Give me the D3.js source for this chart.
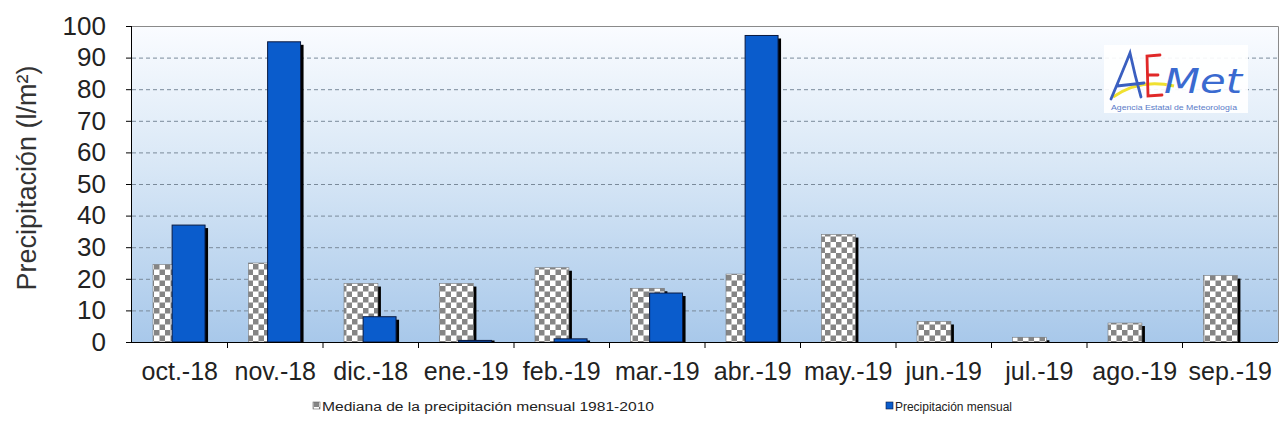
<!DOCTYPE html>
<html><head><meta charset="utf-8">
<script src="https://cdn.jsdelivr.net/npm/d3@7"></script>
<style>body{margin:0;background:#fff}svg{display:block}</style>
</head><body>
<svg id="c" width="1280" height="442"></svg>
<script>
const months = ["oct.-18","nov.-18","dic.-18","ene.-19","feb.-19","mar.-19","abr.-19","may.-19","jun.-19","jul.-19","ago.-19","sep.-19"];
const medianValues = [24.5,25,18.5,18.5,23.5,17,21.5,34,6.5,1.5,6,21];
const monthlyValues = [37,95,8,0.5,1,15.5,97,0,0,0,0,0];
const yTicks = [0,10,20,30,40,50,60,70,80,90,100];
const legendLabels = ["Mediana de la precipitación mensual  1981-2010","Precipitación mensual"];

const svg = d3.select("#c");
const L=132,R=1278,T=26,B=342;
const x = d3.scaleBand().domain(months).range([L,R]).paddingInner(0).paddingOuter(0);
const y = d3.scaleLinear().domain([0,100]).range([B,T]);
const bw = x.bandwidth();

const defs = svg.append("defs");
const g = defs.append("linearGradient").attr("id","bg").attr("x1",0).attr("y1",0).attr("x2",0).attr("y2",1);
g.append("stop").attr("offset","0%").attr("stop-color","#fafcff");
g.append("stop").attr("offset","45%").attr("stop-color","#d8e7f6");
g.append("stop").attr("offset","100%").attr("stop-color","#a8c8ea");
const p = defs.append("pattern").attr("id","chk").attr("patternUnits","userSpaceOnUse").attr("width",11).attr("height",11);
p.append("rect").attr("width",11).attr("height",11).attr("fill","#ffffff");
p.append("rect").attr("width",5.5).attr("height",5.5).attr("fill","#858585");
p.append("rect").attr("x",5.5).attr("y",5.5).attr("width",5.5).attr("height",5.5).attr("fill","#858585");

svg.append("rect").attr("x",L).attr("y",T).attr("width",R-L).attr("height",B-T).attr("fill","url(#bg)");
svg.append("path").attr("d",`M${L},${T+0.5}H${R+0.5}V${B}`).attr("fill","none").attr("stroke","#8a8a8a").attr("stroke-width",1);

// gridlines
svg.append("g").selectAll("line").data(yTicks.filter(d=>d>0&&d<100)).join("line")
  .attr("x1",L).attr("x2",R).attr("y1",d=>y(d)+0.5).attr("y2",d=>y(d)+0.5)
  .attr("stroke","#7a8a9a").attr("stroke-width",1).attr("stroke-dasharray","4,3");

// logo
const lg = svg.append("g");
lg.append("rect").attr("x",1104).attr("y",45).attr("width",144).attr("height",68).attr("fill","#ffffff").attr("opacity",0.92);
lg.append("path").attr("d","M1113,97 Q1140,78 1174,86").attr("fill","none").attr("stroke","#f0e030").attr("stroke-width",3);
lg.append("path").attr("d","M1111,99 Q1122,73 1130,53 Q1135,76 1141,97 M1117,86 L1144,83").attr("fill","none").attr("stroke","#3a5fc0").attr("stroke-width",2.8).attr("stroke-linecap","round");
lg.append("path").attr("d","M1160,55 L1147,56 L1148,96 L1162,95 M1148,75 L1158,75").attr("fill","none").attr("stroke","#e02828").attr("stroke-width",2.8).attr("stroke-linecap","round");
lg.append("text").attr("x",1164).attr("y",93).attr("font-family","DejaVu Sans").attr("font-style","italic").attr("font-size",34).attr("fill","#3a6ad0").attr("textLength",78).attr("lengthAdjust","spacingAndGlyphs").text("Met");
lg.append("text").attr("x",1111).attr("y",110).attr("font-family","Liberation Sans").attr("font-size",6.5).attr("fill","#5a7ac8").attr("textLength",126).attr("lengthAdjust","spacingAndGlyphs").text("Agencia Estatal de Meteorología");

// shadows + bars
const base = y(0);
const medX = d=>x(d)+bw*0.22, medW = bw*0.355;
const monX = d=>x(d)+bw*0.42, monW = bw*0.345;
const md = months.map((m,i)=>({m,v:medianValues[i]}));
const mo = months.map((m,i)=>({m,v:monthlyValues[i]}));
svg.append("g").selectAll("rect").data(md.filter(d=>d.v>0)).join("rect")
  .attr("x",d=>medX(d.m)+3).attr("y",d=>y(d.v)+3).attr("width",medW).attr("height",d=>Math.max(0,base-y(d.v)-3)).attr("fill","#000");
svg.append("g").selectAll("rect").data(md).join("rect")
  .attr("x",d=>medX(d.m)).attr("y",d=>y(d.v)).attr("width",medW).attr("height",d=>base-y(d.v))
  .attr("fill","url(#chk)").attr("stroke","#777").attr("stroke-width",0.6);
svg.append("g").selectAll("rect").data(mo.filter(d=>d.v>0)).join("rect")
  .attr("x",d=>monX(d.m)+3).attr("y",d=>Math.min(y(d.v)+3,base-1.5)).attr("width",monW).attr("height",d=>Math.max(1.5,base-y(d.v)-3)).attr("fill","#000");
svg.append("g").selectAll("rect").data(mo.filter(d=>d.v>0)).join("rect")
  .attr("x",d=>monX(d.m)).attr("y",d=>y(d.v)).attr("width",monW).attr("height",d=>base-y(d.v))
  .attr("fill","#0a5ccc").attr("stroke","#0a1a40").attr("stroke-width",1);

// axes
const ya = svg.append("g").attr("transform",`translate(${L},0)`)
  .call(d3.axisLeft(y).tickValues(yTicks).tickSize(6).tickPadding(20));
ya.select(".domain").attr("stroke","#000").attr("d",`M-0.5,${T}V${B}`);
ya.selectAll(".tick line").attr("stroke","#000");
ya.selectAll("text").attr("font-family","Liberation Sans, Arial").attr("font-size",26).attr("fill","#222");
const xa = svg.append("g").attr("transform",`translate(0,${B})`)
  .call(d3.axisBottom(x).tickSize(0).tickPadding(20));
xa.select(".domain").attr("stroke","#000").attr("d",`M${L},0.5H${R}`);
xa.selectAll("text").attr("font-family","Liberation Sans, Arial").attr("font-size",25).attr("fill","#222");
svg.append("g").selectAll("line").data(months.slice(1)).join("line")
  .attr("x1",d=>x(d)).attr("x2",d=>x(d)).attr("y1",B).attr("y2",B+6).attr("stroke","#000");

svg.append("text").attr("transform","translate(36,178) rotate(-90)").attr("text-anchor","middle")
  .attr("font-family","Liberation Sans, Arial").attr("font-size",27).attr("fill","#333")
  .text("Precipitación (l/m²)");

// legend
const leg = svg.append("g").attr("font-family","Liberation Sans, Arial").attr("font-size",12.5).attr("fill","#222").style("white-space","pre");
leg.append("rect").attr("x",313).attr("y",402).attr("width",7).attr("height",7).attr("fill","url(#chk)").attr("stroke","#666").attr("stroke-width",0.6);
leg.append("text").attr("x",322).attr("y",411).attr("textLength",332).attr("lengthAdjust","spacingAndGlyphs").text(legendLabels[0]);
leg.append("rect").attr("x",886).attr("y",402).attr("width",7).attr("height",7).attr("fill","#0a5ccc").attr("stroke","#0a1a40").attr("stroke-width",0.6);
leg.append("text").attr("x",895).attr("y",411).attr("textLength",117).attr("lengthAdjust","spacingAndGlyphs").text(legendLabels[1]);
</script>
</body></html>
